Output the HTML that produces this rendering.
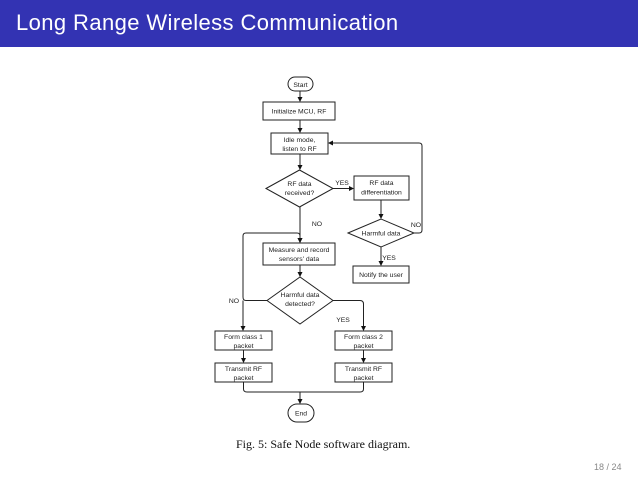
<!DOCTYPE html>
<html><head><style>
body{margin:0;width:638px;height:479px;background:#fff;overflow:hidden;position:relative;font-family:"Liberation Sans",sans-serif}
.bar{position:absolute;left:0;top:0;width:638px;height:47px;background:#3333b3}
.title{position:absolute;left:16px;top:10px;color:#fff;font-size:22px;letter-spacing:0.4px}
.cap{position:absolute;left:236px;top:437px;font-family:"Liberation Serif",serif;font-size:12px;color:#111}
.pg{position:absolute;left:594px;top:462px;font-size:9px;color:#888}
svg{position:absolute;left:0;top:0}
</style></head><body>
<div class="bar"></div><div class="title">Long Range Wireless Communication</div>
<svg width="638" height="479" font-family="Liberation Sans, sans-serif" font-size="6.8" fill="none" stroke="#222" stroke-width="1">
<defs><marker id="a" markerWidth="5" markerHeight="5" refX="4" refY="2.5" orient="auto" markerUnits="userSpaceOnUse"><path d="M0,0L5,2.5L0,5z" fill="#111" stroke="none"/></marker></defs>
<rect x="288" y="77" width="25" height="14" rx="7"/>
<rect x="263" y="102" width="72" height="18"/>
<rect x="271" y="133" width="57" height="21"/>
<path d="M266,188.5L299.5,170L333,188.5L299.5,207z"/>
<rect x="354" y="176" width="55" height="24"/>
<path d="M348,233L381,219L414,233L381,247z"/>
<rect x="353" y="266" width="56" height="17"/>
<rect x="263" y="243" width="72" height="22"/>
<path d="M267,300.5L300,277L333,300.5L300,324z"/>
<rect x="215" y="331" width="57" height="19"/>
<rect x="335" y="331" width="57" height="19"/>
<rect x="215" y="363" width="57" height="19"/>
<rect x="335" y="363" width="57" height="19"/>
<rect x="288" y="404" width="26" height="18" rx="9"/>
<g marker-end="url(#a)">
<path d="M300,91V101"/><path d="M300,120V132"/><path d="M300,154V169"/>
<path d="M333,188.5H353"/><path d="M381,200V218"/><path d="M381,247V265"/>
<path d="M414,233H419Q422,233 422,230V146Q422,143 419,143H329"/>
<path d="M300,207V242"/>
<path d="M267,300.5H246Q243,300.5 243,297V236Q243,233 246,233H297Q300,233 300,236V242" marker-end="none"/>
<path d="M300,233V242"/>
<path d="M243,300.5V330"/>
<path d="M333,300.5H360Q363.5,300.5 363.5,304V330"/>
<path d="M300,265V276"/>
<path d="M243.5,350V362"/><path d="M363.5,350V362"/>
<path d="M243.5,382V389Q243.5,392 247,392H360Q363.5,392 363.5,389V382" marker-end="none"/>
<path d="M300,392V403"/>
</g>
<g fill="#222" stroke="none" text-anchor="middle">
<text x="300.5" y="87">Start</text>
<text x="299" y="113.5">Initialize MCU, RF</text>
<text x="299.5" y="142">Idle mode,</text><text x="299.5" y="151">listen to RF</text>
<text x="299.5" y="186">RF data</text><text x="299.5" y="195">received?</text>
<text x="381.5" y="185">RF data</text><text x="381.5" y="194.5">differentiation</text>
<text x="381" y="235.5">Harmful data</text>
<text x="381" y="277">Notify the user</text>
<text x="299" y="252">Measure and record</text><text x="299" y="261">sensors' data</text>
<text x="300" y="297">Harmful data</text><text x="300" y="306">detected?</text>
<text x="243.5" y="339">Form class 1</text><text x="243.5" y="348">packet</text>
<text x="363.5" y="339">Form class 2</text><text x="363.5" y="348">packet</text>
<text x="243.5" y="371">Transmit RF</text><text x="243.5" y="380">packet</text>
<text x="363.5" y="371">Transmit RF</text><text x="363.5" y="380">packet</text>
<text x="301" y="415.5">End</text>
<text x="342" y="185">YES</text>
<text x="317" y="226">NO</text>
<text x="416" y="227">NO</text>
<text x="389" y="260">YES</text>
<text x="234" y="303">NO</text>
<text x="343" y="322">YES</text>
</g>
</svg>
<div class="cap">Fig. 5: Safe Node software diagram.</div>
<div class="pg">18 / 24</div>
</body></html>
